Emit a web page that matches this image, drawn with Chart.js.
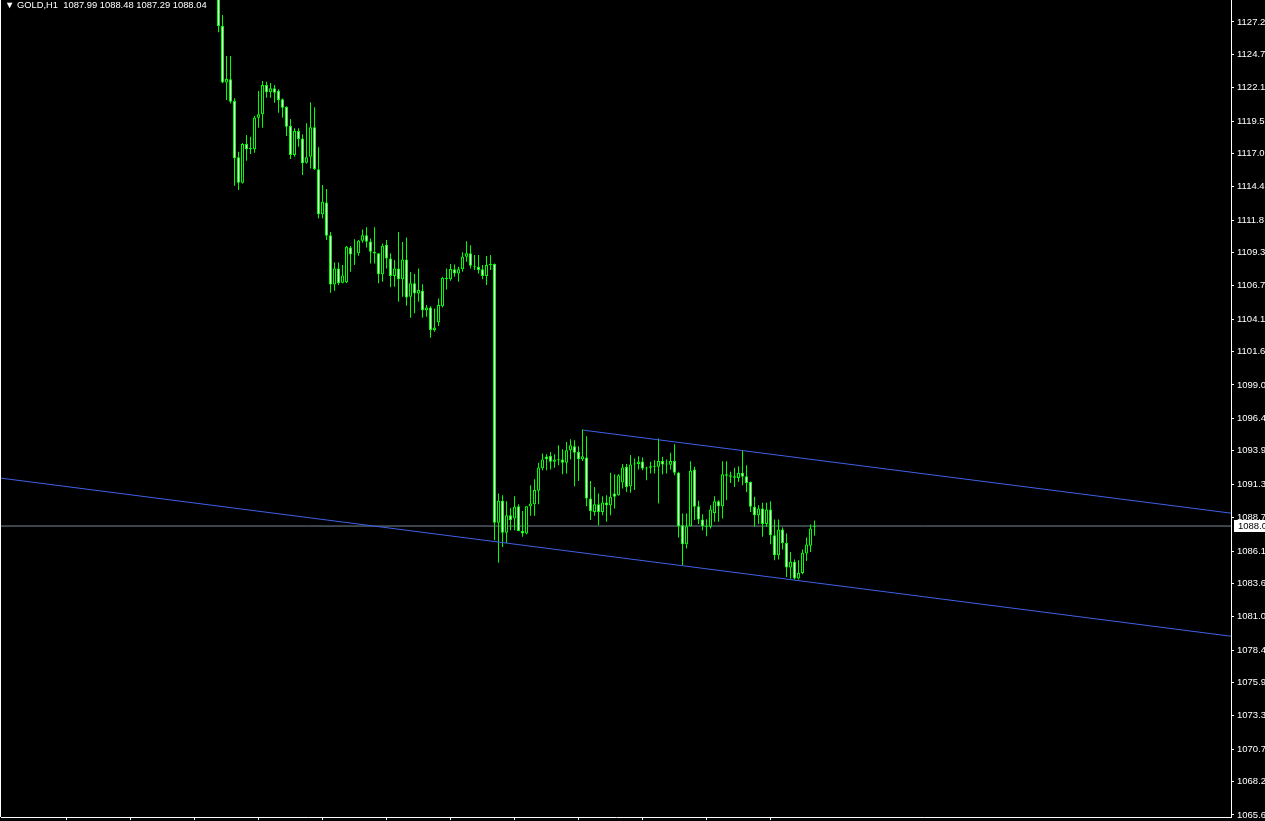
<!DOCTYPE html>
<html>
<head>
<meta charset="utf-8">
<script src="https://cdn.jsdelivr.net/npm/chart.js@4.4.0/dist/chart.umd.min.js"></script>
<style>
  html, body { margin: 0; padding: 0; background: #000; overflow: hidden; }
  #wrap { position: relative; width: 1265px; height: 821px; }
  #hdr { position: absolute; left: 5px; top: 0; color: #fff; font: 9.4px "Liberation Sans", Arial, sans-serif; line-height: 10px; white-space: pre; }
</style>
</head>
<body>
<div id="wrap">
  <canvas id="chart" width="1265" height="821"></canvas>
  <div id="hdr"></div>
</div>
<script>
const symbol = "GOLD";
const timeframe = "H1";

// hourly bars, oldest first
const opens = [
  1129.8, 1126.88, 1122.5, 1122.74, 1121.05, 1116.68, 1114.7, 1117.71, 1117.3, 1117.3,
  1119.75, 1120.02, 1122.3, 1121.73, 1122.04, 1121.85, 1121.2, 1120.59, 1119.11, 1116.86,
  1118.72, 1118.15, 1116.26, 1116.72, 1119.01, 1115.75, 1112.25, 1113.18, 1110.62, 1106.81,
  1108.05, 1106.93, 1106.97, 1109.68, 1109.14, 1109.22, 1110.2, 1110.62, 1110.15, 1109.34,
  1109.22, 1107.59, 1109.89, 1108.83, 1107.46, 1108.05, 1107.2, 1108.75, 1105.85, 1106.89,
  1106.11, 1106.31, 1104.81, 1105.02, 1103.26, 1103.86, 1105.12, 1107.32, 1107.2, 1107.98,
  1107.66, 1107.98, 1108.95, 1109.22, 1108.26, 1108.18, 1107.98, 1107.46, 1108.31, 1108.39,
  1088.29, 1090.0, 1087.51, 1088.88, 1088.63, 1089.58, 1087.66, 1087.46, 1089.58, 1089.74,
  1090.78, 1092.52, 1093.45, 1093.49, 1093.03, 1093.21, 1093.2, 1092.95, 1093.93, 1094.24,
  1093.8, 1093.23, 1093.37, 1090.18, 1089.14, 1089.74, 1089.14, 1089.87, 1089.66, 1090.57,
  1090.44, 1091.43, 1092.64, 1091.14, 1092.82, 1092.85, 1093.06, 1092.51, 1092.56, 1092.69,
  1092.64, 1093.1, 1092.82, 1092.8, 1093.1, 1092.17, 1088.11, 1086.63, 1088.03, 1092.43,
  1089.58, 1088.55, 1088.03, 1087.98, 1089.06, 1089.97, 1089.58, 1092.07, 1091.99, 1091.9,
  1091.78, 1092.17, 1091.91, 1091.47, 1089.53, 1088.88, 1089.4, 1088.19, 1089.33, 1087.33,
  1085.78, 1087.77, 1086.73, 1084.82, 1085.26, 1083.97, 1084.4, 1085.91, 1086.5, 1087.99
];
const highs = [
  1130.3, 1127.73, 1124.55, 1124.55, 1121.26, 1117.11, 1117.79, 1118.41, 1118.28, 1119.89,
  1121.83, 1122.61, 1122.55, 1122.45, 1122.3, 1121.96, 1121.25, 1120.65, 1119.65, 1118.93,
  1118.93, 1118.47, 1119.32, 1120.95, 1120.56, 1117.46, 1114.53, 1114.21, 1110.87, 1108.52,
  1108.52, 1108.31, 1109.79, 1109.79, 1110.31, 1110.25, 1111.08, 1111.24, 1110.38, 1111.24,
  1109.25, 1109.99, 1110.25, 1109.22, 1108.7, 1110.87, 1110.1, 1110.46, 1107.77, 1107.61,
  1108.05, 1106.83, 1105.2, 1105.12, 1104.94, 1105.72, 1107.4, 1108.05, 1108.39, 1108.36,
  1108.18, 1109.3, 1110.17, 1109.86, 1109.09, 1109.09, 1108.31, 1109.01, 1109.09, 1108.44,
  1090.57, 1090.44, 1089.97, 1089.45, 1090.36, 1089.74, 1089.2, 1089.58, 1091.21, 1091.68,
  1092.95, 1093.68, 1093.62, 1093.8, 1093.62, 1094.32, 1094.01, 1094.56, 1094.79, 1094.71,
  1094.24, 1095.54, 1095.02, 1091.53, 1091.08, 1090.57, 1090.36, 1090.44, 1092.17, 1092.07,
  1092.07, 1092.85, 1092.85, 1093.55, 1093.29, 1093.47, 1093.37, 1092.64, 1093.03, 1093.16,
  1094.84, 1093.42, 1093.21, 1093.73, 1094.4, 1092.25, 1089.02, 1089.02, 1093.08, 1092.64,
  1090.0, 1088.96, 1088.57, 1089.66, 1090.36, 1090.05, 1093.08, 1093.08, 1092.25, 1092.56,
  1092.69, 1093.88, 1092.77, 1091.5, 1090.31, 1089.66, 1089.84, 1089.84, 1089.97, 1088.55,
  1088.55, 1087.93, 1087.46, 1086.03, 1085.44, 1085.39, 1086.22, 1087.15, 1088.16, 1088.48
];
const lows = [
  1126.39, 1122.43, 1121.13, 1120.87, 1114.47, 1114.14, 1114.64, 1116.41, 1116.93, 1117.03,
  1118.98, 1118.98, 1121.31, 1121.31, 1120.92, 1120.14, 1119.75, 1118.33, 1116.55, 1116.72,
  1117.5, 1115.3, 1116.2, 1115.82, 1115.69, 1111.94, 1111.94, 1110.25, 1106.16, 1106.31,
  1106.76, 1106.9, 1106.89, 1107.79, 1108.31, 1109.03, 1110.04, 1109.68, 1108.44, 1108.44,
  1106.89, 1107.01, 1108.05, 1106.58, 1106.62, 1105.46, 1105.85, 1105.15, 1104.21, 1104.56,
  1105.46, 1104.21, 1104.29, 1102.66, 1103.13, 1103.57, 1105.02, 1106.42, 1107.09, 1107.4,
  1107.01, 1107.79, 1108.57, 1108.05, 1107.92, 1107.66, 1107.2, 1106.76, 1107.92, 1086.94,
  1085.18, 1086.42, 1086.73, 1087.72, 1087.72, 1087.64, 1087.2, 1087.41, 1088.83, 1088.83,
  1089.74, 1092.38, 1092.38, 1092.43, 1092.56, 1092.77, 1092.07, 1092.12, 1093.21, 1091.14,
  1091.53, 1093.1, 1089.58, 1088.5, 1088.83, 1088.11, 1088.88, 1088.37, 1088.88, 1089.4,
  1090.4, 1090.96, 1090.69, 1090.62, 1090.83, 1092.43, 1092.38, 1091.6, 1092.12, 1092.12,
  1089.79, 1092.07, 1092.12, 1092.43, 1091.99, 1087.15, 1085.0, 1086.3, 1088.0, 1088.5,
  1088.19, 1087.72, 1087.25, 1087.85, 1088.37, 1088.37, 1088.63, 1090.05, 1091.39, 1091.08,
  1091.47, 1091.21, 1090.69, 1089.14, 1087.98, 1088.19, 1087.2, 1087.98, 1086.63, 1085.39,
  1085.44, 1086.22, 1084.09, 1083.97, 1083.89, 1083.89, 1084.3, 1085.33, 1086.03, 1087.29
];
const closes = [
  1126.88, 1122.5, 1122.76, 1121.0, 1116.6, 1114.7, 1117.71, 1117.3, 1117.4, 1119.75,
  1120.02, 1122.3, 1121.73, 1122.04, 1121.7, 1121.13, 1120.53, 1119.06, 1116.86, 1118.72,
  1118.1, 1116.21, 1116.68, 1119.01, 1115.77, 1112.25, 1113.23, 1110.59, 1106.81, 1108.05,
  1106.89, 1107.51, 1109.73, 1109.14, 1109.2, 1110.2, 1110.62, 1110.12, 1109.34, 1109.2,
  1107.59, 1109.81, 1108.83, 1107.46, 1108.05, 1107.2, 1108.75, 1105.8, 1106.89, 1106.11,
  1106.37, 1104.81, 1105.02, 1103.26, 1103.47, 1105.2, 1107.32, 1107.2, 1108.0, 1107.66,
  1107.98, 1108.95, 1109.22, 1108.26, 1108.18, 1107.92, 1107.46, 1108.31, 1108.39, 1088.29,
  1090.0, 1087.51, 1088.88, 1088.5, 1089.53, 1087.66, 1087.46, 1089.58, 1089.79, 1090.83,
  1092.59, 1093.21, 1093.23, 1093.03, 1093.21, 1093.15, 1092.95, 1093.93, 1094.32, 1093.73,
  1093.23, 1093.47, 1090.18, 1089.2, 1089.74, 1089.14, 1089.87, 1089.66, 1090.31, 1090.31,
  1091.99, 1092.59, 1091.08, 1092.82, 1092.85, 1093.06, 1092.51, 1092.56, 1092.69, 1092.64,
  1093.1, 1092.82, 1092.85, 1093.1, 1092.17, 1088.03, 1086.63, 1088.03, 1092.33, 1089.53,
  1088.55, 1088.03, 1087.98, 1089.33, 1089.97, 1089.58, 1092.07, 1091.95, 1091.86, 1091.8,
  1092.17, 1091.86, 1091.39, 1089.53, 1088.88, 1089.4, 1088.19, 1089.33, 1087.33, 1085.78,
  1087.77, 1086.73, 1084.82, 1085.26, 1083.97, 1084.4, 1085.96, 1086.61, 1087.85, 1088.04
];

// price scale labels on the right
const priceTicks = [
  1127.2, 1124.7, 1122.1, 1119.5, 1117.0, 1114.4, 1111.8, 1109.3, 1106.7, 1104.1,
  1101.6, 1099.0, 1096.4, 1093.9, 1091.3, 1088.7, 1086.1, 1083.6, 1081.0, 1078.4,
  1075.9, 1073.3, 1070.7, 1068.2, 1065.6
];
// bars where the time scale puts its ticks
const timeTickBars = [-38, -22, -6, 10, 26, 42, 58, 74, 90, 106, 122, 138];

// trend lines: [bar, price] at both ends
const lowerTrendBars = [-54.375, 253.125];
const lowerTrendPrices = [1091.76, 1079.48];
const upperTrendBars = [91.125, 253.125];
const upperTrendPrices = [1095.49, 1089.04];

// visible window
const firstBar = -54.375, lastBar = 253.125;
const priceLow = 1065.44, priceHigh = 1128.9;

const LIME = "#00ff00";
const TREND = "rgb(64,96,232)";
const BID = "#778899";

const n = opens.length;
const last = n - 1;
document.getElementById("hdr").textContent =
  "\u25BC " + symbol + "," + timeframe + "  " +
  [opens[last], highs[last], lows[last], closes[last]].map(v => v.toFixed(2)).join(" ");

const bodies = [], wicks = [], bodyColors = [];
for (let i = 0; i < n; i++) {
  bodies.push({ x: i, y: [opens[i], closes[i]] });
  wicks.push({ x: i, y: [lows[i], highs[i]] });
  bodyColors.push(closes[i] > opens[i] ? "#000000" : "#ffffff");
}

const toPoints = (xs, ys) => xs.map((x, i) => ({ x: x, y: ys[i] }));

// left frame line + bid price box on the axis
const chartExtras = {
  id: "chartExtras",
  afterDraw(chart) {
    const { ctx, chartArea, scales } = chart;
    ctx.save();
    ctx.fillStyle = "#ffffff";
    ctx.fillRect(chartArea.left - 1, chartArea.top, 1, chartArea.bottom - chartArea.top);
    const bid = closes[last];
    const y = Math.round(scales.y.getPixelForValue(bid));
    ctx.fillRect(chartArea.right + 3, y - 6, 40, 12);
    ctx.fillStyle = "#000000";
    ctx.font = '9.5px "Liberation Sans"';
    ctx.textBaseline = "middle";
    ctx.fillText(bid.toFixed(1), chartArea.right + 7, y + 0.5);
    ctx.restore();
  }
};

new Chart(document.getElementById("chart"), {
  type: "bar",
  data: {
    datasets: [
      {
        label: "body",
        data: bodies,
        backgroundColor: bodyColors,
        borderColor: LIME,
        borderWidth: 1,
        borderSkipped: false,
        barThickness: 3,
        minBarLength: 1,
        inflateAmount: 0,
        grouped: false,
        order: 1
      },
      {
        label: "wick",
        data: wicks,
        backgroundColor: LIME,
        borderWidth: 0,
        barThickness: 1,
        inflateAmount: 0,
        grouped: false,
        order: 2
      },
      {
        type: "line",
        label: "bid",
        data: toPoints([firstBar, lastBar], [closes[last], closes[last]]),
        borderColor: BID,
        borderWidth: 1,
        pointRadius: 0,
        order: 3
      },
      {
        type: "line",
        label: "lower",
        data: toPoints(lowerTrendBars, lowerTrendPrices),
        borderColor: TREND,
        borderWidth: 1,
        pointRadius: 0,
        order: 0
      },
      {
        type: "line",
        label: "upper",
        data: toPoints(upperTrendBars, upperTrendPrices),
        borderColor: TREND,
        borderWidth: 1,
        pointRadius: 0,
        order: 0
      }
    ]
  },
  options: {
    responsive: false,
    animation: false,
    devicePixelRatio: 1,
    layout: { padding: { left: 1, top: 0, right: 0, bottom: 0 } },
    plugins: { legend: { display: false }, tooltip: { enabled: false } },
    scales: {
      x: {
        type: "linear",
        position: "bottom",
        min: firstBar,
        max: lastBar,
        offset: false,
        afterBuildTicks: s => { s.ticks = timeTickBars.map(v => ({ value: v })); },
        afterFit: s => { s.height = 4; s.paddingLeft = 0; s.paddingRight = 0; },
        ticks: { display: false },
        grid: { display: true, drawOnChartArea: false, tickLength: 3, color: "#ffffff", offset: false },
        border: { display: true, color: "#ffffff" }
      },
      y: {
        type: "linear",
        position: "right",
        min: priceLow,
        max: priceHigh,
        afterBuildTicks: s => { s.ticks = priceTicks.map(v => ({ value: v })); },
        afterFit: s => { s.width = 34; s.paddingTop = 0; s.paddingBottom = 0; },
        ticks: {
          color: "#ffffff",
          autoSkip: false,
          padding: 3,
          font: { family: "Liberation Sans", size: 9.5 },
          callback: v => Number(v).toFixed(1)
        },
        grid: { display: true, drawOnChartArea: false, tickLength: 3, color: "#ffffff" },
        border: { display: true, color: "#ffffff" }
      }
    }
  },
  plugins: [chartExtras]
});
</script>
</body>
</html>
